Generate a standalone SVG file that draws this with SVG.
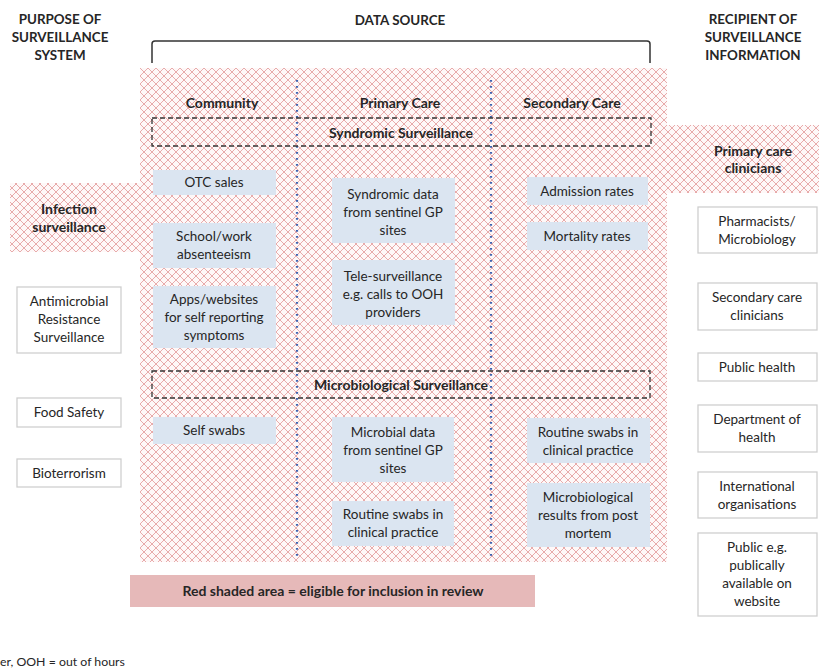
<svg xmlns="http://www.w3.org/2000/svg" width="819" height="670" viewBox="0 0 819 670">
<defs>
<pattern id="hatch" patternUnits="userSpaceOnUse" width="8" height="8">
<rect width="8" height="8" fill="#fef8f8"/>
<path d="M0,0 L8,8 M8,0 L0,8 M-1,7 L1,9 M7,-1 L9,1 M-1,1 L1,-1 M7,9 L9,7" stroke="#e8abab" stroke-width="1" fill="none"/>
</pattern>
<style>
text{font-family:Lato,"Liberation Sans",sans-serif;fill:#262626;text-anchor:middle}
.h{font-weight:bold;font-size:13.4px}
.c{font-weight:bold;font-size:14px}
.t{font-size:13.5px}
.blue{fill:#dbe5f1;stroke:none}
.white{fill:#fff;stroke:#cfcfcf;stroke-width:1.3}
.dash{fill:none;stroke:#333;stroke-width:1.3;stroke-dasharray:5 3}
.dot{stroke:#3f63b0;stroke-width:2.2;stroke-dasharray:1.8 4.2;fill:none}
</style>
</defs>
<rect width="819" height="670" fill="#fff"/>
<path d="M140,68 H667 V125 H819 V193 H667 V562 H140 V252 H10 V183 H140 Z" fill="url(#hatch)"/>

<g id="headings">
<text class="h" x="60" y="24">PURPOSE OF</text>
<text class="h" x="60" y="42">SURVEILLANCE</text>
<text class="h" x="60" y="60">SYSTEM</text>
<text class="h" x="400" y="25">DATA SOURCE</text>
<text class="h" x="753" y="24">RECIPIENT OF</text>
<text class="h" x="753" y="42">SURVEILLANCE</text>
<text class="h" x="753" y="60">INFORMATION</text>
</g>

<g id="connectors">
<path d="M152,63 V44 Q152,41 155,41 H647 Q650,41 650,44 V63" fill="none" stroke="#333" stroke-width="1.5"/>
<line class="dot" x1="297" y1="80" x2="297" y2="556"/>
<line class="dot" x1="491" y1="80" x2="491" y2="556"/>
</g>

<g id="col-headers">
<text class="c" x="222" y="108">Community</text>
<text class="c" x="400" y="108">Primary Care</text>
<text class="c" x="572" y="108">Secondary Care</text>
</g>

<g id="syndromic">
<rect class="dash" x="152" y="118" width="499" height="28"/>
<text class="c" x="401" y="138">Syndromic Surveillance</text>
</g>
<g id="microbiological">
<rect class="dash" x="152" y="371" width="498" height="27"/>
<text class="c" x="401" y="390">Microbiological Surveillance</text>
</g>

<g id="otc"><rect class="blue" x="153" y="170" width="123" height="25"/><text class="t" x="214" y="187">OTC sales</text></g>
<g id="school"><rect class="blue" x="153" y="223" width="123" height="45"/><text class="t" x="214" y="241">School/work</text><text class="t" x="214" y="259">absenteeism</text></g>
<g id="apps"><rect class="blue" x="153" y="286" width="123" height="62"/><text class="t" x="214" y="304">Apps/websites</text><text class="t" x="214" y="322">for self reporting</text><text class="t" x="214" y="340">symptoms</text></g>
<g id="selfswabs"><rect class="blue" x="153" y="417" width="123" height="27"/><text class="t" x="214" y="435">Self swabs</text></g>

<g id="syndromicdata"><rect class="blue" x="332" y="178" width="123" height="65"/><text class="t" x="393" y="199">Syndromic data</text><text class="t" x="393" y="217">from sentinel GP</text><text class="t" x="393" y="235">sites</text></g>
<g id="tele"><rect class="blue" x="332" y="260" width="123" height="65"/><text class="t" x="393" y="281">Tele-surveillance</text><text class="t" x="393" y="299">e.g. calls to OOH</text><text class="t" x="393" y="317">providers</text></g>
<g id="microbialdata"><rect class="blue" x="332" y="417" width="122" height="65"/><text class="t" x="393" y="437">Microbial data</text><text class="t" x="393" y="455">from sentinel GP</text><text class="t" x="393" y="473">sites</text></g>
<g id="routine1"><rect class="blue" x="332" y="501" width="122" height="45"/><text class="t" x="393" y="519">Routine swabs in</text><text class="t" x="393" y="537">clinical practice</text></g>

<g id="admission"><rect class="blue" x="527" y="177" width="121" height="28"/><text class="t" x="587" y="196">Admission rates</text></g>
<g id="mortality"><rect class="blue" x="527" y="222" width="121" height="28"/><text class="t" x="587" y="241">Mortality rates</text></g>
<g id="routine2"><rect class="blue" x="527" y="418" width="123" height="45"/><text class="t" x="588" y="437">Routine swabs in</text><text class="t" x="588" y="455">clinical practice</text></g>
<g id="postmortem"><rect class="blue" x="527" y="483" width="123" height="64"/><text class="t" x="588" y="502">Microbiological</text><text class="t" x="588" y="520">results from post</text><text class="t" x="588" y="538">mortem</text></g>

<g id="infection"><text class="c" x="69" y="214">Infection</text><text class="c" x="69" y="232">surveillance</text></g>
<g id="amr"><rect class="white" x="17" y="287" width="104" height="66"/><text class="t" x="69" y="306">Antimicrobial</text><text class="t" x="69" y="324">Resistance</text><text class="t" x="69" y="342">Surveillance</text></g>
<g id="food"><rect class="white" x="17" y="398" width="104" height="29"/><text class="t" x="69" y="417">Food Safety</text></g>
<g id="bioterrorism"><rect class="white" x="17" y="459" width="104" height="28"/><text class="t" x="69" y="478">Bioterrorism</text></g>

<g id="primaryclin"><text class="c" x="753" y="156">Primary care</text><text class="c" x="753" y="173">clinicians</text></g>
<g id="pharmacists"><rect class="white" x="698" y="207" width="119" height="46"/><text class="t" x="757" y="226">Pharmacists/</text><text class="t" x="757" y="244">Microbiology</text></g>
<g id="secclin"><rect class="white" x="698" y="283" width="119" height="47"/><text class="t" x="757" y="302">Secondary care</text><text class="t" x="757" y="320">clinicians</text></g>
<g id="publichealth"><rect class="white" x="698" y="353" width="119" height="28"/><text class="t" x="757" y="372">Public health</text></g>
<g id="doh"><rect class="white" x="698" y="405" width="119" height="47"/><text class="t" x="757" y="424">Department of</text><text class="t" x="757" y="442">health</text></g>
<g id="intl"><rect class="white" x="698" y="472" width="119" height="46"/><text class="t" x="757" y="491">International</text><text class="t" x="757" y="509">organisations</text></g>
<g id="public"><rect class="white" x="698" y="533" width="119" height="83"/><text class="t" x="757" y="552">Public e.g.</text><text class="t" x="757" y="570">publically</text><text class="t" x="757" y="588">available on</text><text class="t" x="757" y="606">website</text></g>

<g id="legend"><rect x="130" y="575" width="405" height="32" fill="#e6b9b9"/><text class="c" x="333" y="596">Red shaded area = eligible for inclusion in review</text></g>
<text x="0" y="666" style="text-anchor:start;font-size:12.3px">er, OOH = out of hours</text>
</svg>
